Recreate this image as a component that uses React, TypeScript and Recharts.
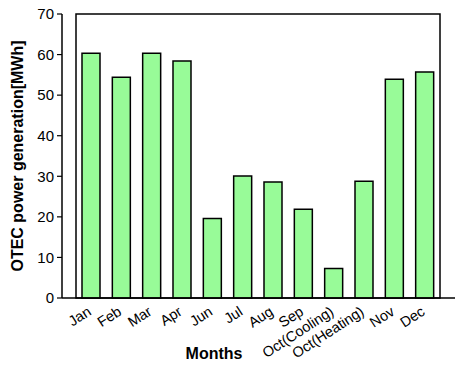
import { BarChart, Bar, XAxis, YAxis, ReferenceArea } from 'recharts';

const months = ['Jan', 'Feb', 'Mar', 'Apr', 'Jun', 'Jul', 'Aug', 'Sep', 'Oct(Cooling)', 'Oct(Heating)', 'Nov', 'Dec'];
const generation = [60.3, 54.4, 60.3, 58.4, 19.6, 30.1, 28.6, 21.9, 7.3, 28.8, 53.9, 55.7];
const yTicks = [0, 10, 20, 30, 40, 50, 60, 70];

const data = months.map((m, i) => ({ month: m, value: generation[i] }));

const FONT = 'Arial, "Liberation Sans", sans-serif';

function MonthTick(props: any) {
    const { x, y, payload } = props;
    const tx = x + 1;
    const ty = y + 8;
    return (
        <text
            x={tx}
            y={ty}
            textAnchor="end"
            transform={`rotate(-33, ${tx}, ${ty})`}
            fontSize={14.5}
            fontFamily={FONT}
            fill="#000"
        >
            {payload.value}
        </text>
    );
}

function YTitle(props: any) {
    const vb = props.viewBox || { x: 0, y: 14, width: 62, height: 284 };
    const cx = 17;
    const cy = vb.y + vb.height / 2;
    return (
        <text
            x={cx}
            y={cy}
            transform={`rotate(-90, ${cx}, ${cy})`}
            textAnchor="middle"
            dominantBaseline="central"
            fontSize={16}
            fontWeight="bold"
            fontFamily={FONT}
            fill="#000"
        >
            OTEC power generation[MWh]
        </text>
    );
}

function XTitle() {
    return (
        <text x={214} y={359} textAnchor="middle" fontSize={16} fontWeight="bold" fontFamily={FONT} fill="#000">
            Months
        </text>
    );
}

export default function App() {
    return (
        <div style={{ position: 'absolute', left: 0, top: 0, width: 462, height: 367, background: '#fff' }}>
            <BarChart
                width={462}
                height={367}
                data={data}
                margin={{ top: 14, right: 7, bottom: 9, left: 0 }}
            >
                <XAxis
                    dataKey="month"
                    interval={0}
                    height={60}
                    tick={<MonthTick />}
                    tickLine={false}
                    axisLine={{ stroke: '#000', strokeWidth: 1.5 }}
                    padding={{ left: 14, right: 15 }}
                    label={<XTitle />}
                />
                <YAxis
                    width={62}
                    domain={[0, 70]}
                    ticks={yTicks}
                    interval={0}
                    tickSize={5}
                    tickMargin={3}
                    tickLine={{ stroke: '#000', strokeWidth: 1.2 }}
                    axisLine={{ stroke: '#000', strokeWidth: 1.5 }}
                    tick={{ fontSize: 15, fontFamily: FONT, fill: '#000' }}
                    label={<YTitle />}
                />
                <ReferenceArea y1={0} y2={70} fill="none" stroke="#000" strokeWidth={1.5} ifOverflow="extendDomain" />
                <Bar dataKey="value" fill="#98fb98" stroke="#000" strokeWidth={1.5} barSize={18} isAnimationActive={false} />
            </BarChart>
        </div>
    );
}
